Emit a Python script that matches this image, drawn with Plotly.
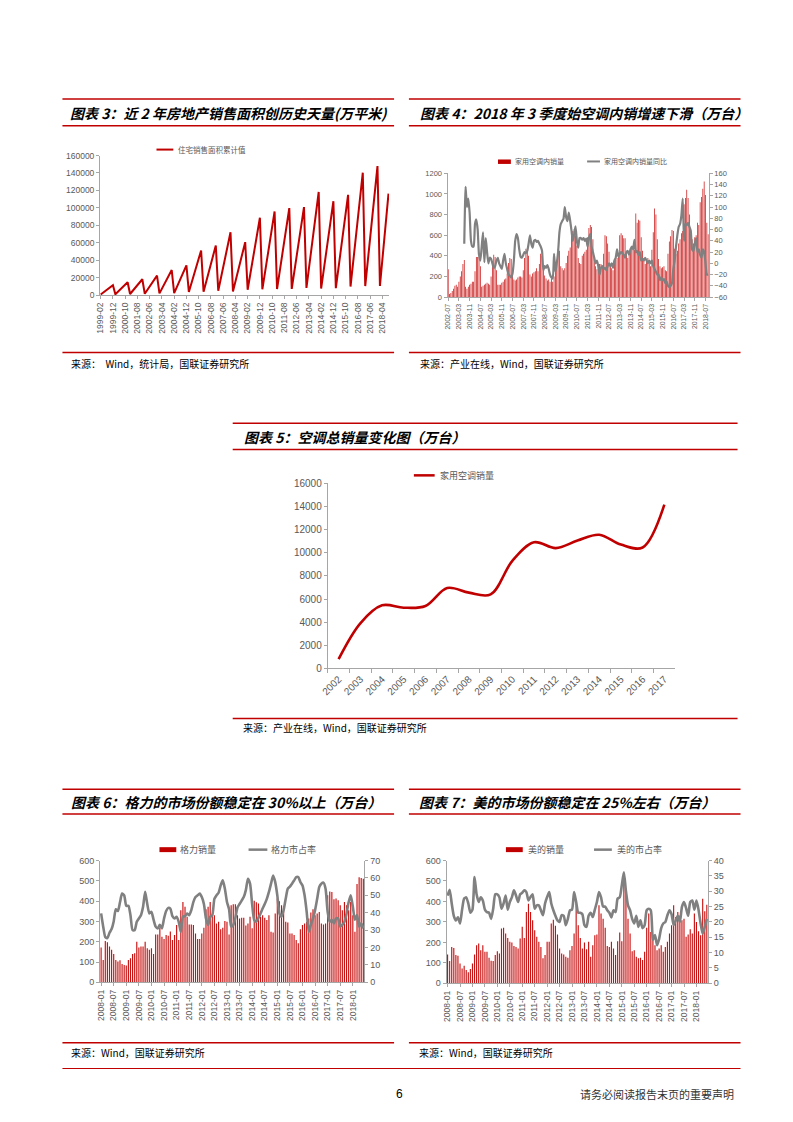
import plotly.graph_objects as go

W, H = 793, 1122
def X(p): return p / W
def Y(p): return 1 - p / H

RED = '#C00000'
BAR = 'rgba(198,10,10,0.97)'
LINEGRAY = '#808080'
AXC = '#A6A6A6'
TXT = '#595959'
CJK = 'Noto Sans CJK SC'
NUM = 'Liberation Sans'

def months(y0, m0, y1, m1):
    out = []
    y, m = y0, m0
    while (y, m) <= (y1, m1):
        out.append(f'{y}-{m:02d}')
        m += 1
        if m > 12:
            m = 1
            y += 1
    return out

# ---------------- Chart 3: cumulative residential sales area (万平米) ----------------
months3 = months(1999, 2, 2018, 9)
area3 = [
    800, 1800, 2700, 3800, 5100, 6000, 7000, 8100, 9000, 10000, 11400,
    None, 1000, 2400, 3600, 4900, 6700, 7800, 9000, 10500, 11700, 13000, 14800,
    None, 1300, 2900, 4400, 6000, 8200, 9600, 11100, 12900, 14400, 16000, 18200,
    None, 1600, 3600, 5400, 7400, 10100, 11900, 13700, 15900, 17700, 19700, 22400,
    None, 2000, 4600, 6900, 9500, 13000, 15300, 17600, 20400, 22800, 25300, 28800,
    None, 2400, 5500, 8200, 11300, 15300, 18100, 20800, 24200, 26900, 30000, 34100,
    None, 3600, 8200, 12300, 16900, 23000, 27100, 31200, 36400, 40400, 45100, 51200,
    None, 4000, 9100, 13700, 18800, 25600, 30200, 34700, 40400, 45000, 50100, 56900,
    None, 5000, 11500, 17300, 23800, 32400, 38200, 43900, 51100, 56900, 63400, 72000,
    None, 4200, 9700, 14600, 20000, 27300, 32200, 37000, 43100, 48000, 53400, 60700,
    None, 6200, 14200, 21300, 29300, 39900, 47000, 54100, 63000, 70100, 78100, 88700,
    None, 6700, 15300, 23000, 31600, 43200, 50800, 58500, 68100, 75800, 84400, 95900,
    None, 7000, 16000, 23900, 32900, 44900, 52800, 60800, 70800, 78800, 87700, 99700,
    None, 7100, 16100, 24200, 33300, 45400, 53500, 61500, 71600, 79700, 88800, 100900,
    None, 8300, 18900, 28400, 39000, 53200, 62700, 72200, 84000, 93500, 104100, 118300,
    None, 7500, 17200, 25800, 35500, 48500, 57100, 65700, 76500, 85100, 94800, 107700,
    None, 8000, 18400, 27600, 37900, 51700, 60900, 70100, 81600, 90800, 101100, 114900,
    None, 9800, 22400, 33700, 46300, 63100, 74400, 85600, 99600, 110800, 123500, 140300,
    None, 10400, 23700, 35500, 48800, 66600, 78400, 90200, 105000, 116800, 130200, 147900,
    None, 10500, 25000, 38000, 51500, 70000, 82000, 96000, 116400,
]
ticks3 = ['1999-02', '1999-12', '2000-10', '2001-08', '2002-06', '2003-04', '2004-02',
          '2004-12', '2005-10', '2006-08', '2007-06', '2008-04', '2009-02', '2009-12',
          '2010-10', '2011-08', '2012-06', '2013-04', '2014-02', '2014-12', '2015-10',
          '2016-08', '2017-06', '2018-04']

# ---------------- Chart 4: domestic AC sales (万台) and YoY (%) ----------------
months4 = months(2002, 7, 2018, 9)
sales4 = [
    270, 30, 40, 60, 80, 110,
    120, 100, 150, 200, 250, 320, 360, 100, 80, 100, 120, 130,
    150, 150, 250, 390, 390, 390, 300, 100, 110, 120, 130, 140,
    130, 120, 200, 350, 410, 390, 260, 120, 120, 120, 140, 150,
    170, 180, 230, 330, 380, 370, 280, 170, 160, 170, 190, 200,
    200, 190, 260, 380, 470, 460, 400, 220, 200, 230, 240, 250,
    280, 250, 320, 420, 400, 300, 210, 180, 160, 170, 150, 180,
    150, 200, 300, 340, 470, 450, 300, 280, 260, 280, 330, 400,
    450, 480, 600, 640, 660, 600, 500, 380, 330, 320, 400, 420,
    440, 460, 580, 670, 700, 680, 560, 390, 300, 270, 300, 320,
    320, 300, 420, 600, 590, 520, 440, 310, 280, 260, 330, 360,
    380, 430, 600, 620, 600, 570, 570, 410, 380, 400, 460, 480,
    500, 460, 810, 720, 750, 740, 580, 450, 380, 320, 350, 380,
    360, 300, 460, 630, 860, 800, 560, 370, 300, 280, 290, 300,
    260, 250, 420, 540, 590, 650, 640, 470, 420, 450, 520, 560,
    620, 640, 900, 960, 1040, 960, 800, 620, 560, 520, 580, 600,
    720, 700, 920, 970, 1050, 1120, 990, 720, 610,
]
yoy4 = [  # from 2003-07
    35, 136, 100, 115, 90, 40,
    30, 30, 70, 78, 60, 15, 5, 30, 55, 2, 45, 20,
    0, 10, 8, 0, -8, -5, 5, 10, 0, -5, -10, 5,
    17, 0, -10, -20, -22, -25, -18, 5, 40, 52, 45, 25,
    12, 10, 15, 20, 18, 22, 35, 50, 35, 28, 40, 42,
    38, 40, 35, 30, 23, -12, -5, -8, -3, -10, -20, -25,
    -27, 17, -15, 0, 20, 55, 70, 75, 79, 100, 82, 75,
    90, 76, 58, 40, 52, 66, 40, 28, 45, 45, 42, 45,
    40, 44, 30, 45, 52, 30, 20, 10, 0, 5, -5, -20,
    -8, -5, -10, -8, -12, -5, 0, -5, 0, -8, 5, 10,
    25, 12, 17, 20, 18, 15, 10, 20, 22, 15, 25, 30,
    25, 42, 20, 22, 15, 20, 5, 8, 5, 10, 5, 0,
    5, 0, 5, -5, -10, -15, -20, -20, -30, -25, -30, -28,
    -35, -32, -40, -42, -40, -35, -10, 5, 30, 50, 65, 70,
    85, 115, 40, 70, 68, 72, 65, 58, 25, 22, 35, 45,
    20, 25, 15, 10, 25, 20, 0, -20, -20,
]
ticks4 = ['2002-07', '2003-03', '2003-11', '2004-07', '2005-03', '2005-11', '2006-07',
          '2007-03', '2007-11', '2008-07', '2009-03', '2009-11', '2010-07', '2011-03',
          '2011-11', '2012-07', '2013-03', '2013-11', '2014-07', '2015-03', '2015-11',
          '2016-07', '2017-03', '2017-11', '2018-07']

# ---------------- Chart 5: total household AC sales (万台) ----------------
years5 = ['2002', '2003', '2004', '2005', '2006', '2007', '2008', '2009',
          '2010', '2011', '2012', '2013', '2014', '2015', '2016', '2017']
sales5 = [800, 3900, 5450, 5250, 5400, 6950, 6550, 6400,
          9300, 10900, 10400, 11050, 11550, 10700, 10450, 14150]

# ---------------- Chart 6 / 7: Gree & Midea monthly sales and share ----------------
months67 = months(2008, 1, 2018, 6)
gree_sales = [
    171, 110, 204, 197, 176, 160, 139, 110, 103, 109, 90, 86,
    83, 110, 119, 139, 143, 200, 171, 176, 176, 200, 168, 160,
    168, 139, 236, 236, 269, 225, 214, 233, 230, 250, 209, 233,
    282, 209, 355, 396, 372, 323, 285, 285, 282, 241, 214, 214,
    241, 269, 360, 372, 396, 339, 331, 290, 298, 261, 269, 302,
    298, 236, 380, 385, 385, 331, 315, 318, 318, 280, 290, 323,
    266, 402, 395, 388, 323, 331, 318, 307, 331, 249, 246, 339,
    413, 400, 380, 364, 298, 295, 241, 241, 233, 209, 192, 262,
    282, 290, 298, 315, 344, 360, 331, 339, 347, 290, 285, 290,
    429, 448, 445, 409, 413, 404, 380, 355, 396, 380, 355, 396,
    331, 249, 485, 518, 514, 510,
]
gree_share = [
    39.6, 32, 26, 25.5, 28.5, 30.6, 35, 42, 41, 46, 51, 50,
    44, 44, 38.6, 30, 30, 34.8, 36.7, 38.6, 43.4, 52, 45, 39.6,
    40.5, 36, 32, 31, 33, 31, 36.7, 41, 42.8, 42.4, 38, 36.7,
    37.7, 34.8, 29, 37.7, 38, 39.6, 38.6, 41.5, 46.2, 49, 50, 51,
    49, 45, 36.7, 33, 37.7, 38.6, 48, 50, 51.5, 55.7, 58.6, 53.8,
    46.2, 42, 32, 33, 37, 43, 45, 47, 49, 53, 59.5, 56.7,
    45, 35.8, 34.8, 37, 39.6, 42.4, 45, 48, 52, 56.7, 61.4, 57.6,
    50, 39.6, 37.7, 41.5, 48, 53.8, 55, 56.7, 58.5, 60.5, 60.5, 57.6,
    55.7, 50, 40.5, 29, 33, 36.7, 41.5, 48, 54.8, 56.7, 57.3, 53.8,
    40.5, 34.8, 35.8, 33.9, 36.7, 36.7, 32, 33, 34.8, 39.6, 46, 50,
    43.4, 36, 38.6, 32, 33.9, 31,
]
midea_sales = [
    141, 109, 178, 173, 138, 135, 97, 73, 86, 65, 54, 70,
    97, 141, 186, 195, 162, 186, 154, 154, 125, 110, 109, 138,
    157, 146, 268, 271, 243, 222, 203, 199, 183, 178, 170, 219,
    276, 222, 349, 389, 349, 308, 259, 227, 203, 178, 122, 138,
    203, 203, 292, 311, 281, 238, 170, 146, 141, 130, 125, 162,
    183, 243, 389, 284, 222, 170, 199, 167, 203, 130, 186, 235,
    238, 381, 341, 316, 271, 182, 178, 203, 170, 138, 206, 248,
    206, 510, 446, 316, 243, 157, 162, 130, 122, 125, 114, 154,
    271, 341, 251, 216, 186, 162, 170, 186, 154, 178, 203, 243,
    284, 381, 324, 349, 332, 308, 316, 227, 238, 264, 243, 341,
    300, 255, 235, 413, 352, 384,
]
midea_share = [
    28.6, 30.5, 26, 22, 20.5, 21.5, 19.5, 24, 27.6, 28, 26, 23,
    24, 34.6, 29, 26.5, 28, 27, 24, 23.2, 23, 21, 24.3, 29,
    29, 28, 24.3, 26, 28.6, 24, 26.5, 28, 30.3, 28.6, 26.5, 29,
    29.5, 30.3, 29.7, 27, 28.1, 29, 24.3, 25.4, 25.4, 23.8, 22.2, 26,
    28.1, 29.7, 26, 23.8, 22, 20.5, 20, 22.2, 22, 18.9, 21, 23.8,
    24, 29.7, 26.5, 23, 23, 22.5, 19, 18.4, 22, 23, 21.6, 24,
    26.5, 29.7, 28, 25, 25, 23.8, 23, 21.5, 23.8, 23.2, 27.6, 28,
    31.9, 36.2, 30, 25.4, 23.8, 21, 19.5, 22, 18.4, 20.5, 18, 18.9,
    23.8, 24.3, 23.8, 14.1, 15.7, 12.4, 14.5, 18, 19.5, 20, 22.2, 23.8,
    22.5, 19, 20.5, 22, 20, 24.9, 26.5, 24.5, 22, 26.5, 27, 24,
    27, 24, 19.5, 16.2, 18.4, 21,
]
ticks67 = ['2008-01', '2008-07', '2009-01', '2009-07', '2010-01', '2010-07', '2011-01',
           '2011-07', '2012-01', '2012-07', '2013-01', '2013-07', '2014-01', '2014-07',
           '2015-01', '2015-07', '2016-01', '2016-07', '2017-01', '2017-07', '2018-01']

# ---------------- Figure ----------------
fig = go.Figure()

fig.add_trace(go.Scatter(x=months3[:len(area3)], y=area3, mode='lines', connectgaps=True,
                         line=dict(color=RED, width=2), xaxis='x', yaxis='y'))

fig.add_trace(go.Bar(x=months4[:len(sales4)], y=sales4, marker=dict(color=BAR, line=dict(width=0)),
                     xaxis='x2', yaxis='y2'))
fig.add_trace(go.Scatter(x=months4[12:12 + len(yoy4)], y=yoy4, mode='lines',
                         line=dict(color=LINEGRAY, width=2.2, shape='spline', smoothing=0.5),
                         xaxis='x2', yaxis='y3'))

fig.add_trace(go.Scatter(x=years5, y=sales5, mode='lines',
                         line=dict(color=RED, width=2.6, shape='spline', smoothing=1.0),
                         xaxis='x3', yaxis='y4'))

fig.add_trace(go.Bar(x=months67[:len(gree_sales)], y=gree_sales, marker=dict(color=BAR, line=dict(width=0)),
                     xaxis='x4', yaxis='y5'))
fig.add_trace(go.Scatter(x=months67[:len(gree_share)], y=gree_share, mode='lines',
                         line=dict(color=LINEGRAY, width=2.6, shape='spline', smoothing=0.6),
                         xaxis='x4', yaxis='y6'))

fig.add_trace(go.Bar(x=months67[:len(midea_sales)], y=midea_sales, marker=dict(color=BAR, line=dict(width=0)),
                     xaxis='x5', yaxis='y7'))
fig.add_trace(go.Scatter(x=months67[:len(midea_share)], y=midea_share, mode='lines',
                         line=dict(color=LINEGRAY, width=2.6, shape='spline', smoothing=0.6),
                         xaxis='x5', yaxis='y8'))


def xax(domain, anchor, ticks, n, size, angle=-90, boundaries=False):
    d = dict(domain=domain, anchor=anchor, type='category', range=[-0.5, n - 0.5],
             tickmode='array', tickvals=ticks, ticktext=ticks, tickangle=angle,
             tickfont=dict(family=NUM, size=size, color=TXT), showline=True, linecolor=AXC,
             linewidth=1, ticks='outside', ticklen=3, tickcolor=AXC, showgrid=False,
             zeroline=False, fixedrange=True)
    if boundaries:
        d['tickson'] = 'boundaries'
        d['ticklen'] = 4
        d.pop('tickvals'); d.pop('ticktext'); d['tickmode'] = 'auto'
    return d


def yax(rng, dtick, size, domain=None, anchor=None, side='left', overlaying=None):
    d = dict(range=rng, tick0=rng[0], dtick=dtick, tickformat='d', side=side,
             tickfont=dict(family=NUM, size=size, color=TXT), showline=True, linecolor=AXC,
             linewidth=1, ticks='outside', ticklen=3, tickcolor=AXC, showgrid=False,
             zeroline=False, fixedrange=True)
    if domain is not None:
        d['domain'] = domain
    if anchor is not None:
        d['anchor'] = anchor
    if overlaying is not None:
        d['overlaying'] = overlaying
    return d


x5ax = xax([X(323), X(674)], 'y4', None, len(years5), 10, angle=-45, boundaries=True)
x5ax['nticks'] = 20

fig.update_layout(
    width=W, height=H, margin=dict(l=0, r=0, t=0, b=0),
    paper_bgcolor='white', plot_bgcolor='rgba(0,0,0,0)', showlegend=False,
    bargap=0.45, hovermode=False,
    xaxis=xax([X(93), X(385)], 'y', ticks3, len(months3), 8.5),
    yaxis=yax([0, 160000], 20000, 8.5, domain=[Y(292), Y(151)], anchor='x'),
    xaxis2=xax([X(444), X(708)], 'y2', ticks4, len(months4), 7),
    yaxis2=yax([0, 1200], 200, 7.5, domain=[Y(294), Y(169)], anchor='x2'),
    yaxis3=yax([-60, 160], 20, 7.5, anchor='x2', side='right', overlaying='y2'),
    xaxis3=x5ax,
    yaxis4=yax([0, 16000], 2000, 10, domain=[Y(669), Y(482)], anchor='x3'),
    xaxis4=xax([X(93), X(360)], 'y5', ticks67, len(months67), 8.5),
    yaxis5=yax([0, 600], 100, 9, domain=[Y(986), Y(863)], anchor='x4'),
    yaxis6=yax([0, 70], 10, 9, anchor='x4', side='right', overlaying='y5'),
    xaxis5=xax([X(443), X(707)], 'y7', ticks67, len(months67), 8.5),
    yaxis7=yax([0, 600], 100, 9, domain=[Y(987), Y(863)], anchor='x5'),
    yaxis8=yax([0, 40], 5, 9, anchor='x5', side='right', overlaying='y7'),
)

shapes = []
annotations = []


def hline(x0, x1, y, color=RED, width=1.5):
    shapes.append(dict(type='line', xref='paper', yref='paper', x0=X(x0), x1=X(x1),
                       y0=Y(y), y1=Y(y), line=dict(color=color, width=width)))


def rect(x0, x1, y0, y1, color=RED):
    shapes.append(dict(type='rect', xref='paper', yref='paper', x0=X(x0), x1=X(x1),
                       y0=Y(y1), y1=Y(y0), fillcolor=color, line=dict(width=0)))


def text(x, y, s, size, color='#000000', anchor='left', family=CJK):
    annotations.append(dict(x=X(x), y=Y(y), xref='paper', yref='paper', text=s,
                            showarrow=False, xanchor=anchor, yanchor='middle',
                            font=dict(family=family, size=size, color=color)))


# frame lines
for y in (94, 121, 350):
    hline(55, 390, y)
    hline(405, 740, y)
for y in (421.5, 448, 719.5):
    hline(227, 737, y)
for y in (791, 816, 1047):
    hline(55, 390, y)
    hline(405, 740, y)
hline(55, 740, 1073, width=1.2)

# titles
text(61, 108, '<b><i>图表 3：近 2 年房地产销售面积创历史天量(万平米)</i></b>', 14)
text(414, 108, '<b><i>图表 4：2018 年 3 季度始空调内销增速下滑（万台）</i></b>', 14)
text(236, 435, '<b><i>图表 5：空调总销量变化图（万台）</i></b>', 14)
text(62, 804, '<b><i>图表 6：格力的市场份额稳定在 30%以上（万台）</i></b>', 14)
text(413, 804, '<b><i>图表 7：美的市场份额稳定在 25%左右（万台）</i></b>', 14)

# sources
text(62, 361, '来源：  Wind，统计局，国联证券研究所', 10)
text(414, 361, '来源：产业在线，Wind，国联证券研究所', 10)
text(235, 729, '来源：产业在线，Wind，国联证券研究所', 10)
text(62, 1057, '来源：Wind，国联证券研究所', 10)
text(413, 1057, '来源：Wind，国联证券研究所', 10)

# legends
hline(150, 167, 145, color=RED, width=2)
text(170, 145, '住宅销售面积累计值', 7.5, color=TXT)

rect(495, 508, 155, 159.5)
text(510, 157, '家用空调内销量', 7, color=TXT)
hline(585, 598, 157, color=LINEGRAY, width=2)
text(600, 157, '家用空调内销量同比', 7, color=TXT)

hline(410, 431, 474, color=RED, width=2.5)
text(434, 474, '家用空调销量', 9, color=TXT)

rect(153, 170, 849.5, 854.5)
text(172, 852, '格力销量', 9, color=TXT)
hline(243, 262, 852, color=LINEGRAY, width=2.5)
text(264, 852, '格力市占率', 9, color=TXT)

rect(503, 520, 849.5, 854.5)
text(523, 852, '美的销量', 9, color=TXT)
hline(592, 610, 852, color=LINEGRAY, width=2.5)
text(613, 852, '美的市占率', 9, color=TXT)

# footer
text(395, 1099, '6', 12, family=NUM, anchor='center')
text(735, 1099, '请务必阅读报告末页的重要声明', 11, color='#333333', anchor='right')

fig.update_layout(shapes=shapes, annotations=annotations)

fig.write_html('out.html', config={'displayModeBar': False},
               post_script="document.body.style.margin='0';document.body.style.overflow='hidden';")
